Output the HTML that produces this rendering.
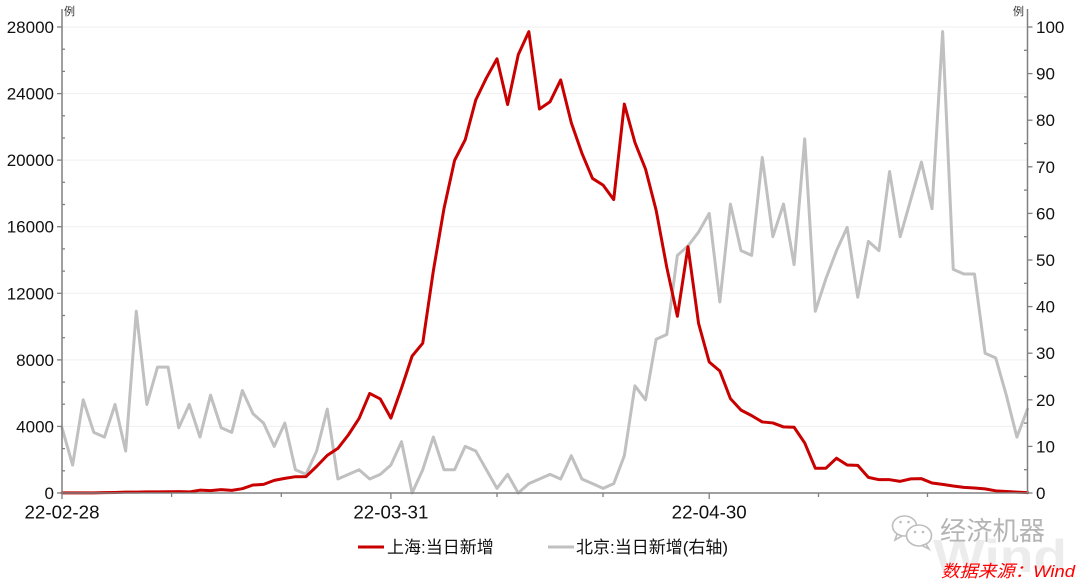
<!DOCTYPE html>
<html>
<head>
<meta charset="utf-8">
<style>
  html, body { margin:0; padding:0; background:#fff; }
  body { width:1080px; height:580px; overflow:hidden; }
  svg { display:block; }
  text { font-family: "Liberation Sans", "Noto Sans CJK SC", sans-serif; }
</style>
</head>
<body>
<svg width="1080" height="580" viewBox="0 0 1080 580" xmlns="http://www.w3.org/2000/svg">
  <rect x="0" y="0" width="1080" height="580" fill="#ffffff"/>

  <!-- Wind watermark -->
  <text x="933" y="572" font-size="46" font-weight="bold" fill="#ececec" textLength="134" lengthAdjust="spacingAndGlyphs">Wind</text>

  <!-- gridlines -->
  <g stroke="#efefef" stroke-width="1">
    <line x1="62" x2="1027.5" y1="27" y2="27"/>
    <line x1="62" x2="1027.5" y1="93.6" y2="93.6"/>
    <line x1="62" x2="1027.5" y1="160.1" y2="160.1"/>
    <line x1="62" x2="1027.5" y1="226.7" y2="226.7"/>
    <line x1="62" x2="1027.5" y1="293.3" y2="293.3"/>
    <line x1="62" x2="1027.5" y1="359.9" y2="359.9"/>
    <line x1="62" x2="1027.5" y1="426.4" y2="426.4"/>
  </g>

  <!-- Beijing (right axis) -->
  <g transform="translate(62,493) scale(10.61,-4.66)">
    <polyline fill="none" stroke="#c0c0c0" stroke-width="3" vector-effect="non-scaling-stroke" stroke-linejoin="round" stroke-linecap="round"
      points="0,14 1,6 2,20 3,13 4,12 5,19 6,9 7,39 8,19 9,27 10,27 11,14 12,19 13,12 14,21 15,14 16,13 17,22 18,17 19,15 20,10 21,15 22,5 23,4 24,9 25,18 26,3 27,4 28,5 29,3 30,4 31,6 32,11 33,0 34,5 35,12 36,5 37,5 38,10 39,9 40,5 41,1 42,4 43,0 44,2 45,3 46,4 47,3 48,8 49,3 50,2 51,1 52,2 53,8 54,23 55,20 56,33 57,34 58,51 59,53 60,56 61,60 62,41 63,62 64,52 65,51 66,72 67,55 68,62 69,49 70,76 71,39 72,46 73,52 74,57 75,42 76,54 77,52 78,69 79,55 80,63 81,71 82,61 83,99 84,48 85,47 86,47 87,30 88,29 89,21 90,12 91,18"/>
  </g>

  <!-- Shanghai (left axis) -->
  <g transform="translate(62,493) scale(10.61,-0.0166429)">
    <polyline fill="none" stroke="#c80000" stroke-width="3" vector-effect="non-scaling-stroke" stroke-linejoin="round" stroke-linecap="round"
      points="0,5 1,5 2,5 3,10 4,20 5,30 6,50 7,55 8,65 9,65 10,75 11,85 12,65 13,170 14,140 15,200 16,160 17,260 18,480 19,520 20,760 21,880 22,980 23,985 24,1600 25,2260 26,2680 27,3500 28,4480 29,5980 30,5650 31,4500 32,6300 33,8230 34,9000 35,13350 36,17080 37,19980 38,21220 39,23620 40,24940 41,26090 42,23340 43,26330 44,27720 45,23070 46,23510 47,24820 48,22250 49,20420 50,18900 51,18500 52,17630 53,23370 54,21060 55,19460 56,16980 57,13560 58,10620 59,14800 60,10180 61,7870 62,7330 63,5670 64,4980 65,4650 66,4270 67,4210 68,3970 69,3950 70,3010 71,1490 72,1490 73,2090 74,1680 75,1660 76,940 77,800 78,800 79,700 80,850 81,860 82,600 83,520 84,420 85,340 86,300 87,250 88,130 89,90 90,50 91,20"/>
  </g>

  <!-- axes -->
  <g stroke="#808080" stroke-width="1.5" fill="none">
    <line x1="62" y1="9" x2="62" y2="493.5"/>
    <line x1="1027.5" y1="9" x2="1027.5" y2="493.5"/>
    <line x1="62" y1="493" x2="1027.5" y2="493"/>
  </g>

  <!-- left ticks: major outward, minor inward -->
  <g stroke="#808080" stroke-width="1.3">
    <line x1="57" x2="62" y1="27" y2="27"/>
    <line x1="57" x2="62" y1="93.6" y2="93.6"/>
    <line x1="57" x2="62" y1="160.1" y2="160.1"/>
    <line x1="57" x2="62" y1="226.7" y2="226.7"/>
    <line x1="57" x2="62" y1="293.3" y2="293.3"/>
    <line x1="57" x2="62" y1="359.9" y2="359.9"/>
    <line x1="57" x2="62" y1="426.4" y2="426.4"/>
    <line x1="57" x2="62" y1="493" y2="493"/>
    <line x1="62" x2="65" y1="49.2" y2="49.2"/>
    <line x1="62" x2="65" y1="71.4" y2="71.4"/>
    <line x1="62" x2="65" y1="115.8" y2="115.8"/>
    <line x1="62" x2="65" y1="138.0" y2="138.0"/>
    <line x1="62" x2="65" y1="182.3" y2="182.3"/>
    <line x1="62" x2="65" y1="204.5" y2="204.5"/>
    <line x1="62" x2="65" y1="248.9" y2="248.9"/>
    <line x1="62" x2="65" y1="271.1" y2="271.1"/>
    <line x1="62" x2="65" y1="315.5" y2="315.5"/>
    <line x1="62" x2="65" y1="337.7" y2="337.7"/>
    <line x1="62" x2="65" y1="382.1" y2="382.1"/>
    <line x1="62" x2="65" y1="404.2" y2="404.2"/>
    <line x1="62" x2="65" y1="448.6" y2="448.6"/>
    <line x1="62" x2="65" y1="470.8" y2="470.8"/>
  </g>

  <!-- right ticks -->
  <g stroke="#808080" stroke-width="1.3">
    <line x1="1027.5" x2="1032.5" y1="27" y2="27"/>
    <line x1="1027.5" x2="1032.5" y1="73.6" y2="73.6"/>
    <line x1="1027.5" x2="1032.5" y1="120.2" y2="120.2"/>
    <line x1="1027.5" x2="1032.5" y1="166.8" y2="166.8"/>
    <line x1="1027.5" x2="1032.5" y1="213.4" y2="213.4"/>
    <line x1="1027.5" x2="1032.5" y1="260" y2="260"/>
    <line x1="1027.5" x2="1032.5" y1="306.6" y2="306.6"/>
    <line x1="1027.5" x2="1032.5" y1="353.2" y2="353.2"/>
    <line x1="1027.5" x2="1032.5" y1="399.8" y2="399.8"/>
    <line x1="1027.5" x2="1032.5" y1="446.4" y2="446.4"/>
    <line x1="1027.5" x2="1032.5" y1="493" y2="493"/>
    <line x1="1024" x2="1027.5" y1="50.3" y2="50.3"/>
    <line x1="1024" x2="1027.5" y1="96.9" y2="96.9"/>
    <line x1="1024" x2="1027.5" y1="143.5" y2="143.5"/>
    <line x1="1024" x2="1027.5" y1="190.1" y2="190.1"/>
    <line x1="1024" x2="1027.5" y1="236.7" y2="236.7"/>
    <line x1="1024" x2="1027.5" y1="283.3" y2="283.3"/>
    <line x1="1024" x2="1027.5" y1="329.9" y2="329.9"/>
    <line x1="1024" x2="1027.5" y1="376.5" y2="376.5"/>
    <line x1="1024" x2="1027.5" y1="423.1" y2="423.1"/>
    <line x1="1024" x2="1027.5" y1="469.7" y2="469.7"/>
  </g>

  <!-- bottom ticks -->
  <g stroke="#808080" stroke-width="1.3">
    <line x1="62" x2="62" y1="493" y2="499"/>
    <line x1="171.6" x2="171.6" y1="493" y2="497"/>
    <line x1="281.3" x2="281.3" y1="493" y2="497"/>
    <line x1="390.9" x2="390.9" y1="493" y2="499"/>
    <line x1="497" x2="497" y1="493" y2="497"/>
    <line x1="603" x2="603" y1="493" y2="497"/>
    <line x1="709.2" x2="709.2" y1="493" y2="499"/>
    <line x1="818.5" x2="818.5" y1="493" y2="497"/>
    <line x1="927.5" x2="927.5" y1="493" y2="497"/>
  </g>

  <!-- left labels -->
  <g font-size="17" fill="#111" text-anchor="end">
    <text x="54" y="33">28000</text>
    <text x="54" y="99.6">24000</text>
    <text x="54" y="166.1">20000</text>
    <text x="54" y="232.7">16000</text>
    <text x="54" y="299.3">12000</text>
    <text x="54" y="365.9">8000</text>
    <text x="54" y="432.4">4000</text>
    <text x="54" y="499">0</text>
  </g>

  <!-- right labels -->
  <g font-size="17" fill="#111" text-anchor="start">
    <text x="1036" y="33">100</text>
    <text x="1036" y="79.6">90</text>
    <text x="1036" y="126.2">80</text>
    <text x="1036" y="172.8">70</text>
    <text x="1036" y="219.4">60</text>
    <text x="1036" y="266">50</text>
    <text x="1036" y="312.6">40</text>
    <text x="1036" y="359.2">30</text>
    <text x="1036" y="405.8">20</text>
    <text x="1036" y="452.4">10</text>
    <text x="1036" y="499">0</text>
  </g>

  <!-- unit labels -->
  <text x="64" y="15" font-size="11" fill="#333">例</text>
  <text x="1013" y="15" font-size="11" fill="#333">例</text>

  <!-- x labels -->
  <g font-size="18" fill="#111" text-anchor="middle">
    <text x="62" y="518.5" textLength="75" lengthAdjust="spacingAndGlyphs">22-02-28</text>
    <text x="390.9" y="518.5" textLength="75" lengthAdjust="spacingAndGlyphs">22-03-31</text>
    <text x="709.2" y="518.5" textLength="75" lengthAdjust="spacingAndGlyphs">22-04-30</text>
  </g>

  <!-- legend -->
  <line x1="358" y1="547" x2="384" y2="547" stroke="#c80000" stroke-width="3"/>
  <text x="387" y="553" font-size="17" fill="#111">上海:当日新增</text>
  <line x1="548" y1="547" x2="574" y2="547" stroke="#c0c0c0" stroke-width="3"/>
  <text x="576" y="553" font-size="17" fill="#111">北京:当日新增(右轴)</text>

  <!-- WeChat icon -->
  <g stroke="#bdbdbd" stroke-width="1.6" fill="#ffffff">
    <ellipse cx="904.5" cy="526" rx="12" ry="10"/>
    <path d="M897 534 L895 540 L902 536 Z"/>
    <ellipse cx="919" cy="535.5" rx="12.5" ry="10.5"/>
    <path d="M926 544 L929 549 L922 545.5 Z"/>
  </g>
  <g fill="#bdbdbd">
    <circle cx="900.5" cy="522" r="1.3"/>
    <circle cx="908.5" cy="522" r="1.3"/>
    <circle cx="915" cy="532" r="1.3"/>
    <circle cx="923" cy="532" r="1.3"/>
  </g>
  <text x="940" y="540" font-size="26" fill="#b4b4b4" font-family="'Liberation Sans','Noto Sans CJK SC',sans-serif" textLength="105" lengthAdjust="spacingAndGlyphs">经济机器</text>

  <!-- source -->
  <text x="941" y="577" font-size="17" font-style="italic" fill="#ff0000" textLength="134" lengthAdjust="spacingAndGlyphs">数据来源：Wind</text>
</svg>
</body>
</html>
